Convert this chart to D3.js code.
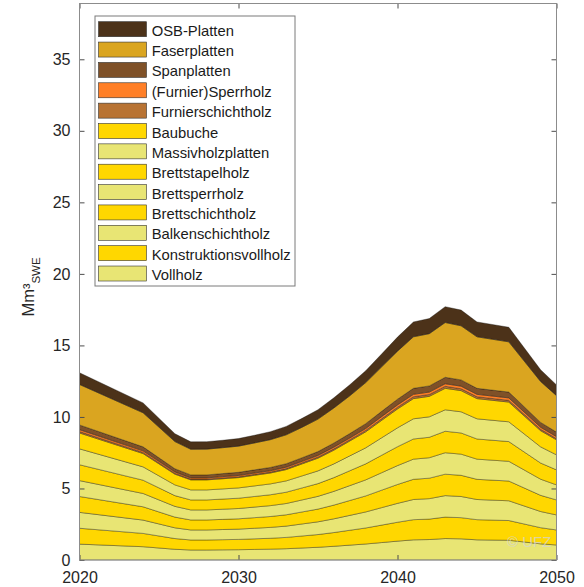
<!DOCTYPE html>
<html>
<head>
<meta charset="utf-8">
<script src="https://cdn.jsdelivr.net/npm/d3@7"></script>
<style>
  body { margin: 0; background: #fff; }
  text { font-family: "Liberation Sans", Arial, Helvetica, sans-serif; }
</style>
</head>
<body>
<div id="chart"></div>
<script>
// years where the curves have a vertex
var years = [2020, 2024, 2026, 2027, 2028, 2029, 2030, 2031, 2032, 2033, 2034, 2035, 2036, 2037, 2038, 2039, 2040, 2041, 2042, 2043, 2044, 2045, 2047, 2049, 2050];

// Mm³ SWE per product, bottom to top of the stack
var vollholz             = [1.11, 0.93, 0.75, 0.70, 0.70, 0.71, 0.72, 0.74, 0.76, 0.79, 0.84, 0.89, 0.96, 1.04, 1.12, 1.22, 1.32, 1.41, 1.43, 1.50, 1.48, 1.41, 1.38, 1.13, 1.05];
var konstruktionsvollholz= [1.11, 0.93, 0.75, 0.70, 0.70, 0.71, 0.72, 0.74, 0.76, 0.79, 0.84, 0.89, 0.96, 1.04, 1.12, 1.22, 1.32, 1.41, 1.43, 1.50, 1.48, 1.41, 1.38, 1.13, 1.05];
var balkenschichtholz    = [1.11, 0.93, 0.75, 0.70, 0.70, 0.71, 0.72, 0.74, 0.76, 0.79, 0.84, 0.89, 0.96, 1.04, 1.12, 1.22, 1.32, 1.41, 1.43, 1.50, 1.48, 1.41, 1.38, 1.13, 1.05];
var brettschichtholz     = [1.11, 0.93, 0.75, 0.70, 0.70, 0.71, 0.72, 0.74, 0.76, 0.79, 0.84, 0.89, 0.96, 1.04, 1.12, 1.22, 1.32, 1.41, 1.43, 1.50, 1.48, 1.41, 1.38, 1.13, 1.05];
var brettsperrholz       = [1.11, 0.93, 0.75, 0.70, 0.70, 0.71, 0.72, 0.74, 0.76, 0.79, 0.84, 0.89, 0.96, 1.04, 1.12, 1.22, 1.32, 1.41, 1.43, 1.50, 1.48, 1.41, 1.38, 1.13, 1.05];
var brettstapelholz      = [1.11, 0.93, 0.75, 0.70, 0.70, 0.71, 0.72, 0.74, 0.76, 0.79, 0.84, 0.89, 0.96, 1.04, 1.12, 1.22, 1.32, 1.41, 1.43, 1.50, 1.48, 1.41, 1.38, 1.13, 1.05];
var massivholzplatten    = [1.11, 0.93, 0.75, 0.70, 0.70, 0.71, 0.72, 0.74, 0.76, 0.79, 0.84, 0.89, 0.96, 1.04, 1.12, 1.22, 1.32, 1.41, 1.43, 1.50, 1.48, 1.41, 1.38, 1.13, 1.05];
var baubuche             = [1.11, 0.93, 0.75, 0.70, 0.70, 0.71, 0.72, 0.74, 0.76, 0.79, 0.84, 0.89, 0.96, 1.04, 1.12, 1.22, 1.32, 1.41, 1.43, 1.50, 1.48, 1.41, 1.38, 1.13, 1.05];
var furnierschichtholz   = [0.10, 0.08, 0.07, 0.06, 0.06, 0.06, 0.06, 0.07, 0.07, 0.07, 0.08, 0.08, 0.09, 0.09, 0.10, 0.11, 0.12, 0.13, 0.13, 0.14, 0.13, 0.13, 0.12, 0.10, 0.09];
var sperrholz            = [0.13, 0.11, 0.09, 0.08, 0.08, 0.09, 0.09, 0.09, 0.09, 0.10, 0.10, 0.11, 0.12, 0.12, 0.13, 0.15, 0.16, 0.17, 0.17, 0.18, 0.18, 0.17, 0.17, 0.14, 0.13];
var spanplatten          = [0.33, 0.28, 0.22, 0.21, 0.21, 0.21, 0.22, 0.22, 0.23, 0.24, 0.25, 0.27, 0.29, 0.31, 0.34, 0.37, 0.40, 0.42, 0.43, 0.45, 0.44, 0.42, 0.41, 0.34, 0.32];
var faserplatten         = [2.83, 2.38, 1.90, 1.79, 1.80, 1.81, 1.83, 1.88, 1.94, 2.02, 2.13, 2.27, 2.45, 2.64, 2.87, 3.11, 3.36, 3.60, 3.65, 3.83, 3.78, 3.60, 3.51, 2.86, 2.55];
var osbPlatten           = [0.82, 0.69, 0.55, 0.52, 0.52, 0.52, 0.53, 0.54, 0.56, 0.59, 0.62, 0.66, 0.71, 0.77, 0.83, 0.90, 0.98, 1.04, 1.06, 1.11, 1.10, 1.04, 1.02, 0.82, 0.75];

var names = ["Vollholz", "Konstruktionsvollholz", "Balkenschichtholz", "Brettschichtholz",
             "Brettsperrholz", "Brettstapelholz", "Massivholzplatten", "Baubuche",
             "Furnierschichtholz", "(Furnier)Sperrholz", "Spanplatten", "Faserplatten", "OSB-Platten"];
var series = [vollholz, konstruktionsvollholz, balkenschichtholz, brettschichtholz,
              brettsperrholz, brettstapelholz, massivholzplatten, baubuche,
              furnierschichtholz, sperrholz, spanplatten, faserplatten, osbPlatten];

var yTicks = [0, 5, 10, 15, 20, 25, 30, 35];
var xTicks = [2020, 2030, 2040, 2050];

var light = "#e8e574", gold = "#ffd700";
var colorMapper = {
  "Vollholz": light,
  "Konstruktionsvollholz": gold,
  "Balkenschichtholz": light,
  "Brettschichtholz": gold,
  "Brettsperrholz": light,
  "Brettstapelholz": gold,
  "Massivholzplatten": light,
  "Baubuche": gold,
  "Furnierschichtholz": "#b87333",
  "(Furnier)Sperrholz": "#ff7f27",
  "Spanplatten": "#7f5128",
  "Faserplatten": "#daa520",
  "OSB-Platten": "#4c3219"
};

var width = 584, height = 587,
    plot = { left: 79.5, right: 556.5, top: 3.5, bottom: 560 };

var svg = d3.select("#chart").append("svg")
    .attr("width", width)
    .attr("height", height);

var x = d3.scaleLinear().domain([2020, 2050]).range([plot.left, plot.right]);
var y = d3.scaleLinear().domain([0, 38.9]).range([plot.bottom, plot.top]);

var rows = years.map((yr, i) => {
  var r = { year: yr };
  names.forEach((n, k) => { r[n] = series[k][i]; });
  return r;
});

var stacked = d3.stack().keys(names)(rows);

var area = d3.area()
    .x(d => x(d.data.year))
    .y0(d => y(d[0]))
    .y1(d => y(d[1]));

svg.append("g")
  .selectAll("path")
  .data(stacked)
  .join("path")
    .attr("d", area)
    .attr("fill", d => colorMapper[d.key])
    .attr("stroke", "#000")
    .attr("stroke-opacity", 0.65)
    .attr("stroke-width", 0.5);

// watermark
svg.append("text")
    .attr("x", 507)
    .attr("y", 546.5)
    .attr("font-size", "15px")
    .attr("fill", "#d4d4d4")
    .attr("fill-opacity", 0.75)
    .text("© UFZ");

// axes (inward ticks on all four sides)
function styleAxis(g) {
  g.select(".domain").remove();
  g.selectAll(".tick line").attr("stroke", "#4d4d4d");
  g.selectAll("text")
      .attr("fill", "#262626")
      .attr("font-size", "16px")
      .attr("font-family", "Liberation Sans, Arial, Helvetica, sans-serif");
}

svg.append("g")
    .attr("transform", `translate(${plot.left},0)`)
    .call(d3.axisLeft(y).tickValues(yTicks).tickSize(-5).tickPadding(9))
    .call(styleAxis);

svg.append("g")
    .attr("transform", `translate(${plot.right},0)`)
    .call(d3.axisRight(y).tickValues(yTicks).tickSize(-5).tickFormat(""))
    .call(styleAxis);

svg.append("g")
    .attr("transform", `translate(0,${plot.bottom})`)
    .call(d3.axisBottom(x).tickValues(xTicks).tickSize(-5).tickPadding(12).tickFormat(d3.format("d")))
    .call(styleAxis);

svg.append("g")
    .attr("transform", `translate(0,${plot.top})`)
    .call(d3.axisTop(x).tickValues(xTicks).tickSize(-5).tickFormat(""))
    .call(styleAxis);

svg.append("rect")
    .attr("x", plot.left)
    .attr("y", plot.top)
    .attr("width", plot.right - plot.left)
    .attr("height", plot.bottom - plot.top)
    .attr("fill", "none")
    .attr("stroke", "#8c8c8c")
    .attr("stroke-width", 1);

// y label
var ylab = svg.append("text")
    .attr("transform", "translate(34,287) rotate(-90)")
    .attr("text-anchor", "middle")
    .attr("font-size", "16.5px")
    .attr("fill", "#262626");
ylab.append("tspan").text("Mm³");
ylab.append("tspan").attr("font-size", "11.5px").attr("dy", 6).text("SWE");

// legend
var legend = svg.append("g").attr("id", "legend");
legend.append("rect")
    .attr("x", 95)
    .attr("y", 16)
    .attr("width", 200)
    .attr("height", 270)
    .attr("fill", "#fff")
    .attr("stroke", "#7a7a7a")
    .attr("stroke-width", 1);

var items = legend.selectAll("g.item")
    .data(names.slice().reverse())
    .join("g")
      .attr("class", "item")
      .attr("transform", (d, i) => `translate(0,${21.7 + i * 20.36})`);

items.append("rect")
    .attr("x", 98.5)
    .attr("y", 0)
    .attr("width", 48)
    .attr("height", 15)
    .attr("fill", d => colorMapper[d])
    .attr("stroke", "#333")
    .attr("stroke-width", 0.6);

items.append("text")
    .attr("x", 151.7)
    .attr("y", 14)
    .attr("font-size", "14.8px")
    .attr("fill", "#1a1a1a")
    .text(d => d);
</script>
</body>
</html>
